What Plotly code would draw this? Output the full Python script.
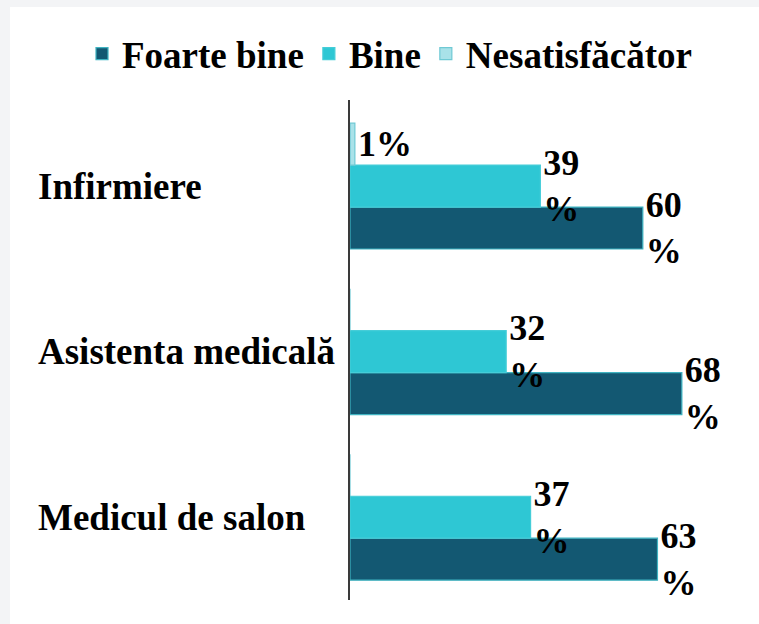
import plotly.graph_objects as go

categories = ["Infirmiere", "Asistenta medicală", "Medicul de salon"]
series_names = ["Foarte bine", "Bine", "Nesatisfăcător"]
foarte_bine = [60, 68, 63]
bine = [39, 32, 37]
nesatisfacator = [1, 0, 0]

colors = ["#135872", "#2ec7d4", "#a9e2e9"]
outline = ["#3fb3c1", "#45cdd8", "#6fc9d4"]

W, H = 749, 617
FONT = "Liberation Serif, Times New Roman, serif"


def label(v):
    if v == 0:
        return ""
    if v < 10:
        return f"{v}%"
    return f"{v}<br>%"


fig = go.Figure()
for name, vals, col, lc in zip(series_names, [foarte_bine, bine, nesatisfacator], colors, outline):
    fig.add_trace(go.Bar(
        name=name,
        y=categories,
        x=vals,
        orientation="h",
        marker=dict(color=col, line=dict(color=lc, width=1.2)),
        text=[label(v) for v in vals],
        textposition="outside",
        constraintext="none",
        cliponaxis=False,
        textfont=dict(family=FONT, size=36, color="#000000", weight="bold"),
        hoverinfo="skip",
    ))

ml, mt = 340, 93
plot_w = 388
plot_h = 500
fig.update_layout(
    width=W, height=H,
    margin=dict(l=ml, r=W - ml - plot_w, t=mt, b=H - mt - plot_h, pad=0),
    paper_bgcolor="#ffffff",
    plot_bgcolor="#ffffff",
    barmode="group",
    bargap=0.24,
    bargroupgap=0,
    showlegend=True,
    legend=dict(
        orientation="h",
        xref="paper", yref="paper",
        x=(72 - ml) / plot_w, y=1 + 46 / plot_h,
        xanchor="left", yanchor="middle",
        font=dict(family=FONT, size=37, color="#000000", weight="bold"),
        traceorder="normal",
        itemclick=False,
        bgcolor="rgba(0,0,0,0)",
    ),
    xaxis=dict(range=[0, 79.5], visible=False, fixedrange=True),
    yaxis=dict(
        categoryorder="array",
        categoryarray=categories[::-1],
        range=[-0.5, 2.52],
        showticklabels=False,
        showgrid=False,
        zeroline=False,
        ticks="",
        showline=True,
        linecolor="#3a3a3a",
        linewidth=1.6,
        fixedrange=True,
    ),
    font=dict(family=FONT),
)

for cat in categories:
    fig.add_annotation(
        x=(26 - ml) / plot_w, xref="paper", xanchor="left",
        y=cat, yref="y", yanchor="middle",
        text=cat, showarrow=False,
        font=dict(family=FONT, size=37, color="#000000", weight="bold"),
    )

fig.write_html(
    "out.html",
    config={"displayModeBar": False},
    post_script="document.body.style.margin='7px 0 0 10px';document.body.style.background='#f3f4f6';document.body.style.overflow='hidden';",
)
